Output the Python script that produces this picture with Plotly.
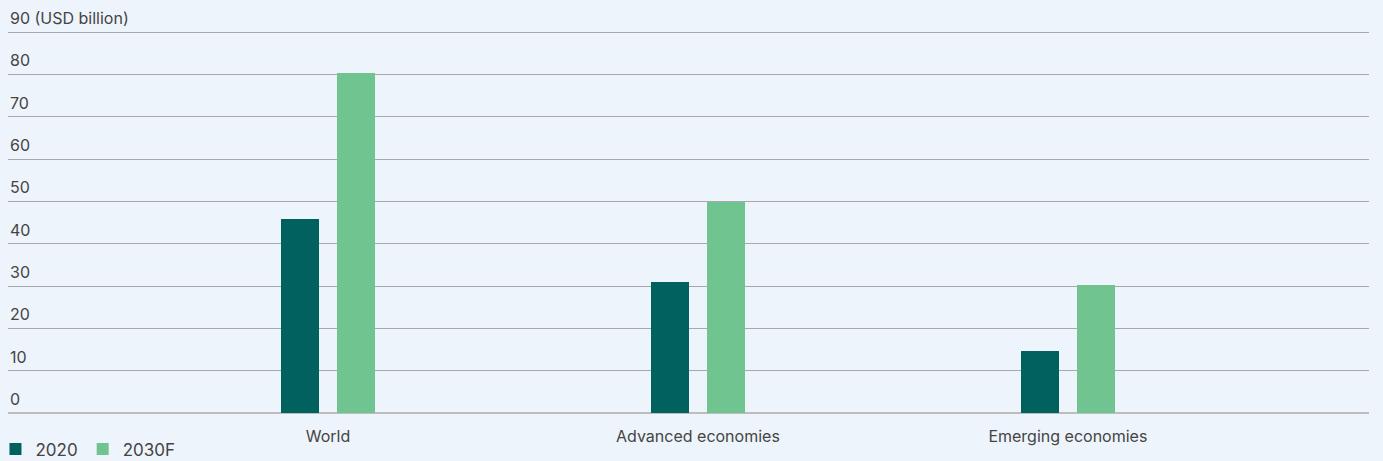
import plotly.graph_objects as go

categories = ["World", "Advanced economies", "Emerging economies"]
values_2020 = [45.8, 30.9, 14.6]
values_2030f = [80.3, 49.9, 30.2]
y_tick_values = [0, 10, 20, 30, 40, 50, 60, 70, 80, 90]
y_tick_labels = ["0", "10", "20", "30", "40", "50", "60", "70", "80", "90 (USD billion)"]

BG = "#eef4fb"
TEXT = "#444444"
FONT = "Inter, Liberation Sans, Arial, sans-serif"

fig = go.Figure()
fig.add_trace(go.Bar(
    x=categories, y=values_2020, name="2020",
    marker=dict(color="#00615f", line=dict(width=0)),
    width=0.103, offset=-0.127,
))
fig.add_trace(go.Bar(
    x=categories, y=values_2030f, name="2030F",
    marker=dict(color="#70c490", line=dict(width=0)),
    width=0.103, offset=0.024,
))

# y-axis labels sit just above each gridline, left-aligned
for v, label in zip(y_tick_values, y_tick_labels):
    fig.add_annotation(
        x=0, xref="paper", y=v, yref="y",
        text=label, showarrow=False,
        xanchor="left", yanchor="bottom", yshift=2,
        font=dict(family=FONT, size=16, color=TEXT),
    )

fig.update_layout(
    width=1383, height=461,
    margin=dict(l=8, r=14, t=31, b=48, autoexpand=False),
    paper_bgcolor=BG, plot_bgcolor=BG,
    font=dict(family=FONT, size=16, color=TEXT),
    showlegend=True,
    legend=dict(
        orientation="h", xref="paper", yref="paper",
        x=-0.0092, xanchor="left", y=-0.048, yanchor="top",
        font=dict(size=17, color=TEXT), bgcolor="rgba(0,0,0,0)",
        itemwidth=30, traceorder="normal",
    ),
    bargap=0,
)
fig.update_xaxes(
    type="category", range=[-0.865, 2.814],
    showgrid=False, showline=False, zeroline=False,
    ticks="", ticklabelstandoff=12, tickfont=dict(size=16, color=TEXT),
)
fig.update_yaxes(
    range=[0, 90.25], tickvals=y_tick_values, showticklabels=False, ticks="",
    showgrid=True, gridcolor="#a8a8a8", gridwidth=1,
    zeroline=True, zerolinecolor="#bdbdbd", zerolinewidth=2,
    showline=False,
)

fig.write_html("out.html")
